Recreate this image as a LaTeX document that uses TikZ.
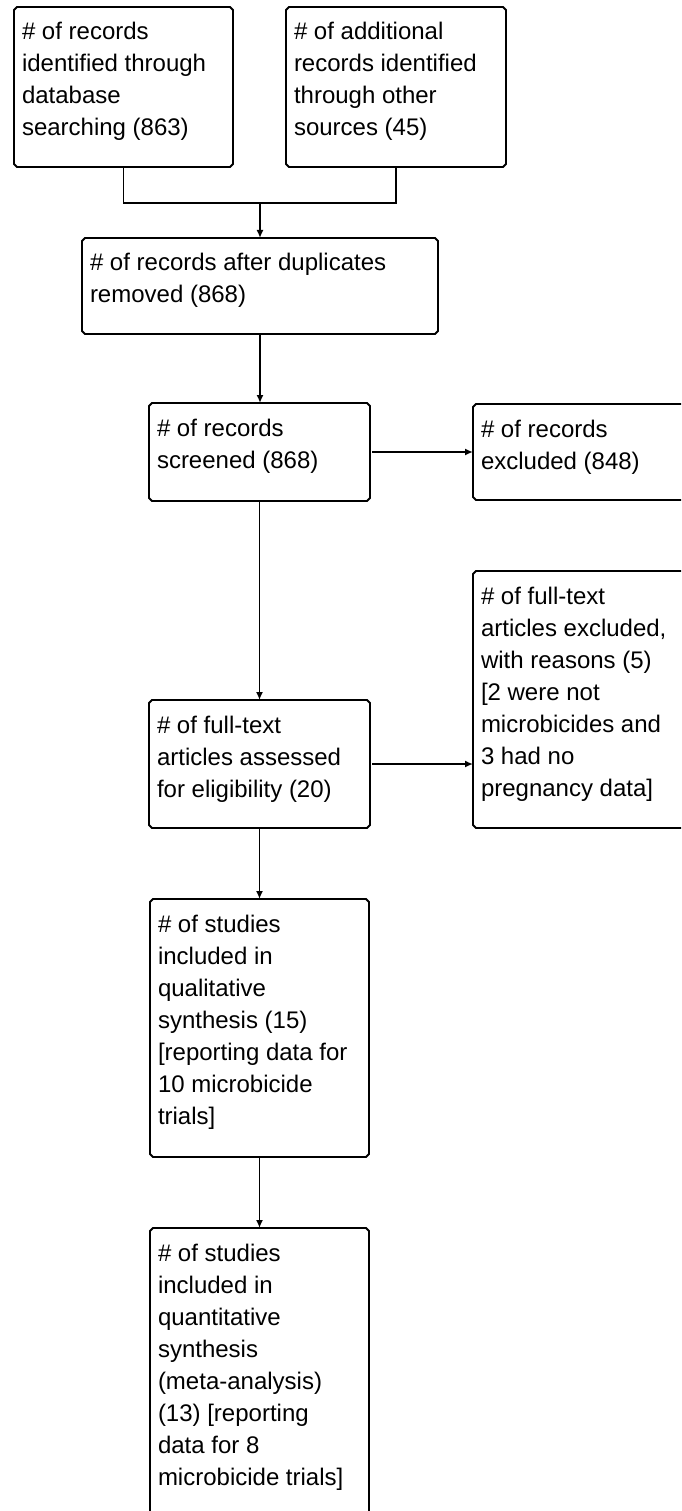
\documentclass[tikz,border=0pt]{standalone}
\usepackage{fontspec}
\setmainfont{Liberation Sans}
\usetikzlibrary{arrows.meta}
\tikzset{
  boxnode/.style={rectangle, draw=none, inner sep=0pt, outer sep=0pt, anchor=north west},
  outline/.style={line width=1.8pt, black},
  conn/.style={line width=1.8pt, black},
  arr/.style={conn, -{Latex[length=8pt,width=7pt]}},
}
\newcommand{\mkbox}[6]{%
  \node[boxnode, minimum width=#4pt, minimum height=#5pt] (#1) at (#2,#3)
    {\hspace*{8pt}\parbox[c][#5pt][t]{\dimexpr#4pt-8pt\relax}{\raggedright\fontsize{24}{32}\selectfont\rule{0pt}{33pt}#6}};
  \draw[outline] ([xshift=3pt]#1.north west) -- ([xshift=-3pt]#1.north east) -- ([yshift=-3pt]#1.north east)
    -- ([yshift=3pt]#1.south east) -- ([xshift=-3pt]#1.south east) -- ([xshift=3pt]#1.south west)
    -- ([yshift=3pt]#1.south west) -- ([yshift=-3pt]#1.north west) -- cycle;
}
\begin{document}
\begin{tikzpicture}[x=1pt,y=-1pt]
\useasboundingbox (0,0) rectangle (681,1511);
\fill[white] (0,0) rectangle (681,1511);
\begin{scope}
\clip (0,0) rectangle (681,1511);
\mkbox{A}{14}{7}{219}{160}{\# of records\\identified through\\database\\searching (863)}
\mkbox{B}{286}{7}{220}{160}{\# of additional\\records identified\\through other\\sources (45)}
\mkbox{C}{82}{238}{356}{96}{\# of records after duplicates\\removed (868)}
\mkbox{D}{149}{403}{221}{98}{\# of records\\screened (868)}
\mkbox{E}{473}{404}{222}{96}{\# of records\\excluded (848)}
\mkbox{F}{149}{700}{221}{128}{\# of full-text\\articles assessed\\for eligibility (20)}
\mkbox{G}{473}{571}{222}{257}{\# of full-text\\articles excluded,\\with reasons (5)\\{[}2 were not\\microbicides and\\3 had no\\pregnancy data]}
\mkbox{H}{150}{899}{219}{258}{\# of studies\\included in\\qualitative\\synthesis (15)\\{[}reporting data for\\10 microbicide\\trials]}
\mkbox{I}{150}{1228}{219}{300}{\# of studies\\included in\\quantitative\\synthesis\\(meta-analysis)\\(13) [reporting\\data for 8\\microbicide trials]}

\coordinate (J) at (260,203);
\draw[conn] (A.south) |- (J) -| (B.south);
\draw[arr] (J) -- (J |- C.north);
\draw[arr] (C.south) -- (C.south |- D.north);
\draw[arr, shorten <=2pt] (D.east) -- (D.east -| E.west);
\draw[arr] (D.south) -- (F.north);
\draw[arr, shorten <=2pt] (F.east) -- (F.east -| G.west);
\draw[arr] (F.south) -- (F.south |- H.north);
\draw[arr] (H.south) -- (H.south |- I.north);
\end{scope}
\end{tikzpicture}
\end{document}
